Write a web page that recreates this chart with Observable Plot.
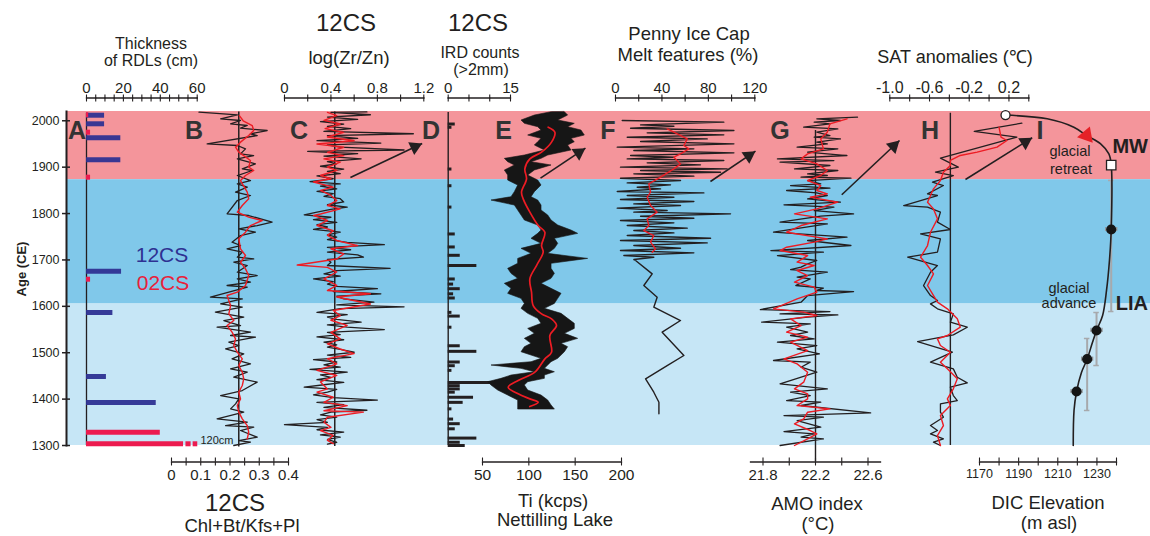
<!DOCTYPE html>
<html><head><meta charset="utf-8">
<script src="https://cdn.jsdelivr.net/npm/d3@7"></script>
<script src="https://cdn.jsdelivr.net/npm/@observablehq/plot@0.6"></script>
<style>
html,body{margin:0;padding:0;background:#fff;}
#fig{position:relative;width:1150px;height:536px;overflow:hidden;background:#fff;}
</style></head><body><div id="fig"></div>
<script>
// ---------------- DATA ----------------
const ageTicks = [1300, 1400, 1500, 1600, 1700, 1800, 1900, 2000];
const periods = [
  {name: "warm", from: 1873, to: 2020},
  {name: "liaLate", from: 1605, to: 1873},
  {name: "liaEarly", from: 1300, to: 1605}
];
// A: thickness of RDLs (cm) [year, cm]
const rdl12CS = [[2012, 9.8], [1993.5, 9.8], [1963.3, 18.6], [1915.9, 18.6], [1675.8, 19.0], [1586.7, 14.3], [1448.8, 10.8], [1392.7, 37.8]];
const rdl02CS = [[2013, 1.2], [1975.4, 2.2], [1878.4, 2.2], [1658.5, 2.2], [1328.7, 40.0], [1303.7, 120]];
// B: Chl+Bt/Kfs+Pl [year, ratio]
const bRatio = [[2018.5,0.094],[2012.8,0.225],[2004.2,0.168],[2000.6,0.236],[1993.4,0.202],[1989.8,0.259],[1984.0,0.236],[1979.0,0.327],[1971.8,0.270],[1968.2,0.293],[1950.3,0.122],[1946.7,0.225],[1939.5,0.253],[1928.7,0.236],[1925.1,0.281],[1917.9,0.225],[1907.1,0.287],[1896.4,0.242],[1892.8,0.276],[1882.0,0.225],[1871.2,0.270],[1864.0,0.225],[1856.8,0.259],[1846.1,0.219],[1838.9,0.270],[1828.1,0.225],[1799.4,0.190],[1795.8,0.264],[1781.4,0.344],[1774.2,0.293],[1767.0,0.230],[1759.8,0.287],[1752.6,0.236],[1738.3,0.207],[1731.1,0.236],[1723.9,0.190],[1716.7,0.242],[1705.9,0.225],[1702.3,0.281],[1695.1,0.213],[1688.0,0.259],[1673.6,0.225],[1666.4,0.293],[1659.2,0.225],[1652.1,0.270],[1644.9,0.190],[1641.3,0.259],[1619.7,0.133],[1616.1,0.242],[1605.3,0.168],[1598.2,0.242],[1587.4,0.150],[1576.6,0.247],[1569.4,0.179],[1558.6,0.236],[1555.0,0.156],[1544.3,0.270],[1537.1,0.202],[1533.5,0.287],[1522.7,0.196],[1515.5,0.230],[1508.3,0.185],[1497.6,0.247],[1486.8,0.207],[1476.0,0.270],[1465.2,0.202],[1458.0,0.259],[1447.3,0.213],[1436.5,0.293],[1418.5,0.242],[1407.7,0.168],[1400.5,0.230],[1389.8,0.219],[1379.0,0.202],[1371.8,0.247],[1357.4,0.156],[1350.2,0.259],[1343.0,0.185],[1339.4,0.281],[1332.3,0.236],[1317.9,0.293],[1310.7,0.230],[1307.1,0.270],[1300,0.213]];
const bRatioSmooth = [[2011,0.232],[2000,0.245],[1989.8,0.276],[1979.0,0.281],[1968.2,0.264],[1953.9,0.236],[1943.1,0.219],[1932.3,0.230],[1914.3,0.270],[1900.0,0.264],[1892.8,0.281],[1882.0,0.253],[1871.2,0.236],[1846.1,0.259],[1831.7,0.264],[1817.3,0.242],[1803.0,0.225],[1792.2,0.264],[1785.0,0.310],[1774.2,0.270],[1759.8,0.253],[1745.5,0.230],[1723.9,0.236],[1709.5,0.253],[1695.1,0.236],[1680.8,0.253],[1666.4,0.264],[1644.9,0.253],[1630.5,0.225],[1623.3,0.190],[1601.7,0.202],[1583.8,0.196],[1569.4,0.213],[1558.6,0.190],[1544.3,0.207],[1529.9,0.219],[1515.5,0.213],[1501.2,0.225],[1486.8,0.242],[1472.4,0.230],[1458.0,0.242],[1443.7,0.247],[1429.3,0.242],[1414.9,0.230],[1400.5,0.236],[1386.2,0.225],[1371.8,0.230],[1357.4,0.242],[1343.0,0.259],[1328.7,0.264],[1314.3,0.259]];
// C: log(Zr/Zn) [year, value]
const cZrZn = [[2019,0.71],[2018,0.40],[2013,0.74],[2008,0.37],[2003,0.63],[1998,0.31],[1993,0.51],[1988,0.37],[1983,0.57],[1977,0.34],[1972,1.11],[1968,0.37],[1962,0.63],[1957,0.28],[1952,0.83],[1948,0.37],[1943,0.48],[1937,1.03],[1934,0.20],[1929,0.63],[1924,0.34],[1918,0.66],[1912,0.37],[1907,0.45],[1902,0.31],[1896,0.51],[1891,0.37],[1886,0.48],[1881,0.28],[1875,0.42],[1869,0.22],[1864,0.48],[1859,0.31],[1853,0.45],[1848,0.28],[1843,0.42],[1837,0.34],[1832,0.48],[1825,0.51],[1819,0.37],[1814,0.54],[1809,0.40],[1803,0.28],[1797,0.17],[1792,0.40],[1787,0.25],[1781,0.45],[1776,0.28],[1771,0.37],[1766,0.25],[1760,0.48],[1754,0.37],[1749,0.45],[1744,0.37],[1738,0.54],[1733,0.86],[1727,0.37],[1722,0.57],[1717,0.37],[1711,0.63],[1706,0.68],[1701,0.37],[1695,0.40],[1688,0.37],[1682,0.91],[1677,0.45],[1670,0.34],[1665,0.48],[1659,0.25],[1653,0.42],[1648,0.37],[1643,0.45],[1638,0.80],[1632,0.42],[1627,0.83],[1622,0.45],[1616,0.51],[1609,0.77],[1603,0.45],[1599,1.03],[1595,0.48],[1587,0.28],[1582,0.54],[1577,0.37],[1572,0.45],[1566,0.66],[1560,0.37],[1555,0.54],[1550,0.86],[1544,0.37],[1539,0.48],[1534,0.28],[1528,0.51],[1523,0.34],[1517,0.45],[1512,0.37],[1507,0.48],[1501,0.60],[1495,0.37],[1490,0.57],[1485,0.25],[1480,0.45],[1474,0.34],[1469,0.48],[1464,0.22],[1458,0.54],[1452,0.31],[1447,0.40],[1442,0.28],[1436,0.51],[1431,0.34],[1426,0.17],[1421,0.45],[1415,0.37],[1409,0.25],[1403,0.42],[1398,0.80],[1393,0.28],[1388,0.51],[1382,0.34],[1376,0.71],[1372,0.40],[1366,0.31],[1361,0.45],[1356,0.28],[1350,0.37],[1345,0.00],[1339,0.37],[1334,0.28],[1329,0.51],[1323,0.31],[1318,0.48],[1313,0.37],[1307,0.45],[1303,0.37]];
const cZrZnSmooth = [[2018,0.37],[2011,0.45],[2001,0.34],[1993,0.48],[1983,0.35],[1975,0.51],[1965,0.37],[1957,0.60],[1950,0.28],[1943,0.51],[1932,0.37],[1925,0.51],[1918,0.34],[1911,0.48],[1900,0.37],[1893,0.45],[1882,0.31],[1875,0.40],[1868,0.25],[1857,0.42],[1850,0.31],[1839,0.40],[1828,0.45],[1817,0.37],[1810,0.48],[1799,0.31],[1796,0.25],[1785,0.37],[1774,0.28],[1763,0.42],[1753,0.37],[1742,0.45],[1731,0.63],[1724,0.40],[1713,0.51],[1702,0.45],[1689,0.11],[1684,0.37],[1674,0.45],[1659,0.34],[1645,0.45],[1634,0.37],[1627,0.74],[1620,0.45],[1605,0.74],[1591,0.42],[1580,0.48],[1570,0.40],[1559,0.54],[1544,0.40],[1530,0.48],[1519,0.37],[1508,0.48],[1498,0.60],[1487,0.37],[1476,0.45],[1462,0.28],[1451,0.45],[1437,0.31],[1422,0.37],[1415,0.28],[1404,0.42],[1393,0.34],[1386,0.54],[1375,0.34],[1372,0.68],[1361,0.37],[1350,0.34],[1339,0.40],[1332,0.31],[1322,0.42],[1311,0.37],[1304,0.42]];
// D: IRD counts (>2mm) [year, count]
const irdCounts = [[1993,1.7],[1986,0.9],[1896,0.9],[1860,0.9],[1814,0.9],[1756,1.7],[1728,1.7],[1710,2.9],[1688,6.9],[1659,1.7],[1648,1.3],[1638,2.9],[1627,1.3],[1618,1.7],[1587,0.9],[1579,2.9],[1555,0.9],[1515,2.9],[1503,6.9],[1480,2.9],[1472,1.7],[1462,0.9],[1436,11.3],[1429,2.9],[1422,2.9],[1415,1.7],[1404,6.1],[1393,3.6],[1379,0.9],[1357,1.3],[1347,2.9],[1336,1.7],[1316,6.9],[1307,2.9],[1300,4.1]];
// E: Ti (kcps), Nettilling Lake: [year, low, high] envelope of the dense record, and smoothed
const eTiRange = [[2018.5,124.5,138.9],[2011.3,106.5,142.4],[2000.6,92.1,131.7],[1993.4,95.7,149.6],[1986.2,110.1,142.4],[1979.0,113.7,156.8],[1968.2,99.3,160.4],[1961.0,113.7,146.0],[1953.9,110.1,149.6],[1946.7,106.5,142.4],[1935.9,117.3,146.0],[1925.1,95.7,120.9],[1917.9,74.1,113.7],[1910.7,77.7,102.9],[1903.6,84.9,124.5],[1892.8,74.1,106.5],[1882.0,77.7,99.3],[1871.2,77.7,110.1],[1860.4,88.5,113.7],[1846.1,84.9,106.5],[1835.3,81.3,102.9],[1828.1,59.7,110.1],[1817.3,84.9,113.7],[1806.6,88.5,113.7],[1795.8,92.1,120.9],[1785.0,95.7,124.5],[1774.2,110.1,131.7],[1763.4,113.7,146.0],[1756.2,110.1,153.2],[1745.5,102.9,128.1],[1734.7,113.7,131.7],[1723.9,92.1,128.1],[1713.1,102.9,120.9],[1702.3,88.5,164.0],[1691.6,88.5,124.5],[1680.8,77.7,124.5],[1670.0,81.3,128.1],[1659.2,88.5,124.5],[1648.5,74.1,113.7],[1637.7,81.3,124.5],[1626.9,77.7,135.3],[1616.1,92.1,131.7],[1605.3,95.7,128.1],[1594.6,92.1,117.3],[1583.8,99.3,135.3],[1573.0,110.1,142.4],[1562.2,113.7,149.6],[1551.4,99.3,149.6],[1540.7,106.5,138.9],[1529.9,95.7,153.2],[1519.1,102.9,135.3],[1511.9,95.7,142.4],[1501.1,92.1,138.9],[1486.8,113.7,131.7],[1479.6,102.9,124.5],[1472.4,59.7,120.9],[1465.2,92.1,117.3],[1458.0,106.5,128.1],[1450.8,81.3,117.3],[1443.7,70.5,117.3],[1436.5,56.1,99.3],[1429.3,59.7,95.7],[1418.5,66.9,99.3],[1407.7,77.7,113.7],[1396.9,88.5,120.9],[1386.2,88.5,124.5],[1377.5,88.5,128.1]];
const eTiSmooth = [[1986.2,120.9],[1975.4,128.1],[1953.9,124.5],[1932.3,113.7],[1917.9,101.1],[1896.4,95.7],[1874.8,97.5],[1846.1,92.1],[1831.7,93.9],[1803.0,101.1],[1774.2,110.1],[1759.8,117.3],[1731.1,113.7],[1716.7,115.5],[1688.0,108.3],[1659.2,101.1],[1630.5,102.9],[1601.7,104.7],[1583.8,113.7],[1573.0,124.5],[1558.6,129.9],[1537.1,122.7],[1501.1,124.5],[1486.8,117.3],[1458.0,106.5],[1440.1,88.5],[1425.7,77.7],[1411.3,88.5],[1400.5,101.1],[1393.3,110.1],[1384,101]];
// F: Penny Ice Cap melt features (%)
const fMelt = [[2000.6,5.8],[1997.0,93.3],[1991.2,21.6],[1988.3,50.3],[1984.0,13.0],[1979.0,102.0],[1974.0,27.3],[1969.7,93.3],[1964.6,10.1],[1961.0,79.0],[1955.3,21.6],[1950.3,102.0],[1943.1,1.5],[1939.5,67.5],[1935.9,15.8],[1930.9,102.0],[1925.1,13.0],[1921.5,50.3],[1917.9,10.1],[1914.3,93.3],[1909.3,27.3],[1905.0,73.2],[1900.0,4.3],[1896.4,96.2],[1892.8,21.6],[1889.2,90.5],[1885.6,15.8],[1880.6,67.5],[1876.2,4.3],[1871.2,56.0],[1866.2,10.1],[1861.9,47.4],[1856.8,18.7],[1853.3,38.8],[1847.5,1.5],[1844.6,76.1],[1838.9,10.1],[1835.3,50.3],[1830.3,4.3],[1825.9,67.5],[1820.9,15.8],[1817.3,56.0],[1811.6,1.5],[1806.6,44.5],[1803.0,15.8],[1799.4,99.1],[1794.3,21.6],[1790.0,67.5],[1785.0,4.3],[1780.0,50.3],[1774.2,10.1],[1768.5,61.8],[1763.4,15.8],[1758.4,50.3],[1752.6,10.1],[1746.9,81.9],[1741.9,4.3],[1736.8,79.0],[1731.1,15.8],[1725.3,56.0],[1720.3,4.3],[1715.3,67.5],[1709.5,7.2],[1705.9,33.0],[1700.9,15.8],[1698.8,17.3],[1670.0,31.6],[1644.9,24.4],[1619.7,35.9],[1598.2,33.0],[1569.4,56.0],[1544.3,40.2],[1494.0,58.9],[1472.4,44.5],[1443.7,25.9],[1414.9,33.0],[1393.3,37.4],[1368.2,37.4]];
const fMeltSmooth = [[1982.6,44.5],[1975.4,50.3],[1961.0,61.8],[1946.7,58.9],[1939.5,63.2],[1928.7,56.0],[1921.5,50.3],[1907.1,56.0],[1896.4,50.3],[1878.4,38.8],[1864.0,28.7],[1846.1,30.2],[1835.3,27.3],[1817.3,30.2],[1803.0,35.9],[1788.6,27.3],[1774.2,28.7],[1763.4,24.4],[1752.6,33.0],[1738.3,30.2],[1723.9,34.5],[1716.7,31.6]];
// G: AMO index (°C)
const gAmo = [[2007.7,22.52],[2004.2,22.21],[2000.6,22.39],[1997.0,22.19],[1993.4,22.31],[1986.2,22.11],[1982.6,22.37],[1975.4,22.21],[1968.2,22.31],[1964.6,22.19],[1961.0,22.39],[1953.9,22.21],[1950.3,22.29],[1943.1,22.06],[1939.5,22.37],[1932.3,22.14],[1925.1,22.44],[1917.9,21.91],[1914.3,22.34],[1910.7,21.93],[1903.6,22.31],[1896.4,22.04],[1892.8,22.37],[1885.6,22.14],[1882.0,22.29],[1878.4,22.09],[1876.2,22.47],[1871.2,22.14],[1864.0,22.24],[1860.4,22.01],[1854.7,22.31],[1849.7,21.98],[1844.6,22.21],[1838.9,22.29],[1831.7,22.14],[1824.5,22.39],[1818.8,21.96],[1813.7,22.34],[1806.5,22.19],[1799.4,22.49],[1794.3,22.24],[1781.4,21.93],[1777.8,22.29],[1759.8,21.88],[1754.1,22.19],[1749.0,22.44],[1741.9,22.14],[1731.1,22.47],[1720.3,21.86],[1716.7,22.26],[1709.5,21.91],[1698.8,22.21],[1691.6,22.14],[1684.4,22.09],[1679.3,22.01],[1673.6,22.29],[1662.8,22.06],[1659.2,22.16],[1644.9,22.05],[1639.1,22.26],[1634.1,22.21],[1631.9,22.49],[1623.3,22.14],[1608.9,22.09],[1593.1,21.78],[1588.8,22.31],[1583.8,21.93],[1581.6,22.37],[1576.6,22.14],[1565.8,21.79],[1562.2,22.16],[1555.0,21.98],[1544.3,22.14],[1537.1,22.01],[1529.9,22.19],[1522.7,21.91],[1515.5,22.21],[1508.3,22.06],[1497.6,22.23],[1483.2,21.88],[1479.6,22.16],[1468.8,22.09],[1458.0,22.21],[1432.9,21.93],[1422.1,22.29],[1414.9,22.01],[1407.7,22.16],[1396.9,21.98],[1393.3,22.24],[1386.2,22.09],[1370.3,22.62],[1364.6,21.96],[1361.0,22.26],[1353.8,22.06],[1339.4,22.24],[1330.1,21.96],[1325.1,22.19],[1317.9,22.09],[1314.3,22.26],[1300,21.93]];
const gAmoSmooth = [[2004.2,22.44],[1993.4,22.31],[1975.4,22.29],[1961.0,22.24],[1939.5,22.26],[1928.7,22.14],[1917.9,22.09],[1907.1,22.21],[1892.8,22.29],[1882.0,22.24],[1871.2,22.14],[1860.4,22.24],[1849.7,22.21],[1842.5,22.29],[1835.3,22.16],[1824.5,22.37],[1810.1,22.21],[1799.4,22.04],[1788.6,22.29],[1774.2,22.09],[1759.8,21.98],[1745.5,22.29],[1738.3,22.19],[1727.5,21.98],[1720.3,21.93],[1709.5,22.14],[1695.2,22.06],[1688.0,22.19],[1677.2,22.06],[1666.4,22.14],[1652.1,22.04],[1641.3,22.19],[1630.5,22.21],[1616.1,22.06],[1594.6,21.88],[1587.4,22.11],[1580.2,22.21],[1573.0,22.01],[1558.6,22.09],[1544.3,21.98],[1533.5,22.14],[1522.7,22.01],[1504.7,22.14],[1486.8,21.96],[1476.0,22.06],[1458.0,22.14],[1436.5,22.11],[1422.1,22.04],[1411.3,22.14],[1400.5,22.14],[1386.2,22.06],[1379.0,22.31],[1371.8,22.14],[1357.4,22.11],[1346.6,22.04],[1332.3,22.16],[1325.1,22.21],[1314.3,22.14],[1300,22.04]];
// H: SAT anomalies (°C)
const hSat = [[1994.8,0.33],[1977.0,-0.15],[1964.6,0.28],[1919.4,-0.49],[1900.0,-0.31],[1889.2,-0.54],[1882.0,-0.36],[1867.6,-0.57],[1860.4,-0.46],[1842.5,-0.62],[1838.9,-0.52],[1817.3,-0.86],[1813.7,-0.62],[1803.0,-0.49],[1781.4,-0.52],[1765.6,-0.39],[1756.2,-0.69],[1745.5,-0.49],[1716.7,-0.52],[1705.9,-0.82],[1688.0,-0.52],[1673.6,-0.59],[1644.9,-0.66],[1623.3,-0.59],[1612.5,-0.52],[1605.3,-0.59],[1594.6,-0.52],[1583.8,-0.36],[1565.8,-0.39],[1555.0,-0.22],[1538.5,-0.36],[1524.1,-0.72],[1501.1,-0.37],[1479.6,-0.59],[1465.2,-0.36],[1447.2,-0.32],[1435.0,-0.22],[1425.7,-0.39],[1407.7,-0.36],[1396.9,-0.32],[1389.8,-0.49],[1371.8,-0.49],[1361.0,-0.46],[1343.0,-0.59],[1332.3,-0.52],[1325.1,-0.59],[1314.3,-0.46],[1307.1,-0.56],[1300,-0.49]];
const hSatSmooth = [[1986.2,0.10],[1964.6,0.12],[1957.5,0.18],[1943.1,0.08],[1932.3,-0.12],[1925.2,-0.29],[1914.4,-0.39],[1903.6,-0.39],[1889.2,-0.46],[1871.2,-0.49],[1853.3,-0.56],[1838.9,-0.59],[1824.5,-0.62],[1810.1,-0.56],[1788.6,-0.52],[1759.8,-0.59],[1731.1,-0.62],[1705.9,-0.69],[1688.0,-0.62],[1670.0,-0.56],[1644.9,-0.62],[1626.9,-0.57],[1608.9,-0.52],[1594.6,-0.42],[1573.0,-0.32],[1555.0,-0.29],[1537.1,-0.42],[1529.9,-0.52],[1515.5,-0.49],[1501.1,-0.39],[1479.6,-0.49],[1465.2,-0.42],[1443.7,-0.32],[1422.1,-0.36],[1400.5,-0.42],[1386.2,-0.39],[1364.6,-0.49],[1343.0,-0.46],[1321.5,-0.52],[1300,-0.49]];
// I: DIC glacier elevation (m asl)
const dicCurve = [[2012.3,1183.3],[2004.3,1204.6],[1986.2,1218.2],[1968.3,1224.7],[1950.4,1231.9],[1928.8,1236.1],[1905.1,1237.3],[1765.7,1237.3],[1698.9,1236.4],[1634.2,1234.9],[1580.3,1232.9],[1548.0,1229.8],[1522.0,1227.7],[1486.1,1225.0],[1457.4,1222.1],[1416.4,1219.6],[1375.5,1218.3],[1300,1217.9]];
// dated points: [year, elevation, age-range low, age-range high]
const dicDates = [[1765.7,1237.3,1588.8,1871.3],[1548.0,1229.8,1472.4,1586.7],[1486.1,1225.0,1375.5,1530.7],[1416.4,1219.6,null,null]];
const dicElevErr = 2.8;
const dicModern = [[2012.3, 1183.3]];
const dicMoraine = [[1904.4, 1237.3]];
const dicRetreat = [[1968.3, 1224.7]];
// reference lines
const refB = 0.23, refC = 0.433, refG = 22.2, refH = -0.39;

// ---------------- LAYOUT / STYLE ----------------
const W = 1150, H = 536;
const Y_DOMAIN = [1300, 2020], Y_RANGE = [445, 111];
const SPAN = [1300, 2018];
const TOP_AXIS = 97.5, BOTTOM_AXIS = 461.5, HALF = 4;
const INK = "#231f20", RED = "#ed1c24", NAVY = "#2e3192", BARRED = "#ec1b4f";
const BAND = {warm: "#f4959b", liaLate: "#80c8ea", liaEarly: "#c6e6f6"};
const FONT = "'Liberation Sans', Arial, Helvetica, sans-serif";
const STYLE = `background: transparent; overflow: visible; position: absolute; left: 0; top: 0; font-family: ${FONT}; color: ${INK};`;
const LW = 1.3;
const yScale = d3.scaleLinear(Y_DOMAIN, Y_RANGE);
const fig = document.getElementById("fig");
const pts = (arr) => arr.map(([year, v]) => ({year, v}));

function arrowMarks(domain, range, a) {
  const xs = d3.scaleLinear(domain, range);
  const x1 = xs(a[0]), y1 = yScale(a[1]), x2 = xs(a[2]), y2 = yScale(a[3]);
  const len = Math.hypot(x2 - x1, y2 - y1), ux = (x2 - x1) / len, uy = (y2 - y1) / len;
  const r = 5.2, tip = 2 * Math.sqrt(Math.PI * r * r / (Math.sqrt(3) * 3));
  const head = {x: xs.invert(x2 - ux * tip), y: yScale.invert(y2 - uy * tip)};
  const rot = Math.atan2(ux, -uy) * 180 / Math.PI;
  return [
    Plot.link([a], {x1: d => d[0], y1: d => d[1], x2: d => d[2], y2: d => d[3], stroke: INK, strokeWidth: 1.6}),
    Plot.dot([head], {x: "x", y: "y", symbol: "triangle", r, fill: INK, stroke: "none", rotate: rot})
  ];
}

function panel({domain, range, extent = range, anchor, ticks, labels, fmt, fontSize = 15, marks}) {
  const isTop = anchor === "top";
  const lineY = isTop ? TOP_AXIS : BOTTOM_AXIS;
  const show = (d) => labels.some(l => Math.abs(l - d) < 1e-9);
  return Plot.plot({
    width: W, height: H,
    marginLeft: extent[0], marginRight: W - extent[1],
    marginTop: isTop ? lineY : lineY - HALF,
    marginBottom: isTop ? H - lineY - HALF : H - lineY,
    x: {domain, range},
    y: {domain: Y_DOMAIN, range: Y_RANGE, axis: null},
    style: STYLE,
    marks: [
      ...marks,
      Plot.frame({anchor, stroke: INK, strokeWidth: 1.3}),
      Plot.tickX(ticks, {x: d => d, stroke: INK, strokeWidth: 1.1}),
      Plot.axisX({anchor, ticks, tickSize: HALF, tickPadding: isTop ? 1.5 : 3, strokeWidth: 1.1,
        tickFormat: d => show(d) ? fmt(d) : "", fontSize, label: null})
    ]
  });
}

// ---------------- BASE (bands + age axis) ----------------
fig.appendChild(Plot.plot({
  width: W, height: H, marginLeft: 66, marginRight: 0, marginTop: Y_RANGE[1], marginBottom: H - Y_RANGE[0],
  y: {domain: Y_DOMAIN, range: Y_RANGE},
  style: STYLE,
  marks: [
    ...periods.map(p => Plot.rect([p], {y1: "from", y2: "to", fill: BAND[p.name]})),
    Plot.frame({anchor: "left", stroke: INK, strokeWidth: 2}),
    Plot.tickY(ageTicks, {y: d => d, insetRight: W - 66 - 4, stroke: INK, strokeWidth: 1.5}),
    Plot.axisY({anchor: "left", ticks: ageTicks, tickSize: 4, tickPadding: 3, strokeWidth: 1.5,
      tickFormat: d => String(d), fontSize: 12.5, label: null})
  ]
}));

// A: RDL thickness
const BREAK = 52.6;
const r02 = rdl02CS.map(([year, cm]) => ({year, cm}));
fig.appendChild(panel({
  domain: [0, 60], range: [86, 196.7], anchor: "top",
  ticks: d3.range(0, 61, 5), labels: [0, 20, 40, 60], fmt: d => String(d),
  marks: [
    Plot.ruleX([0], {y1: SPAN[0], y2: 2016, stroke: INK, strokeWidth: 1.3}),
    Plot.ruleY(rdl12CS.map(([year, cm]) => ({year, cm})), {y: "year", x1: 0, x2: "cm", stroke: NAVY, strokeWidth: 5, strokeOpacity: 0.95}),
    Plot.ruleY(r02, {y: "year", x1: 0, x2: d => Math.min(d.cm, BREAK), stroke: BARRED, strokeWidth: 5}),
    Plot.ruleY(r02.filter(d => d.cm > BREAK), {y: "year", x1: 53.9, x2: 56.7, stroke: BARRED, strokeWidth: 5}),
    Plot.ruleY(r02.filter(d => d.cm > BREAK), {y: "year", x1: 57.8, x2: 60.3, stroke: BARRED, strokeWidth: 5})
  ]
}));

// B: Chl+Bt/Kfs+Pl
fig.appendChild(panel({
  domain: [0, 0.4], range: [171, 288], anchor: "bottom",
  ticks: d3.range(0, 0.4001, 0.05), labels: [0, 0.1, 0.2, 0.3, 0.4], fmt: d => d === 0 ? "0" : d.toFixed(1),
  marks: [
    Plot.ruleX([refB], {y1: 1297, y2: 2019, stroke: INK, strokeWidth: 1.5}),
    Plot.line(pts(bRatio), {x: "v", y: "year", stroke: INK, strokeWidth: LW}),
    Plot.line(pts(bRatioSmooth), {x: "v", y: "year", stroke: RED, strokeWidth: 1.4})
  ]
}));

// C: log(Zr/Zn)
const cDom = [0, 1.2], cRange = [284, 423.3];
fig.appendChild(panel({
  domain: cDom, range: cRange, anchor: "top",
  ticks: d3.range(0, 1.2001, 0.2), labels: [0, 0.4, 0.8, 1.2], fmt: d => d === 0 ? "0" : d.toFixed(1),
  marks: [
    Plot.ruleX([refC], {y1: 1298, y2: 2019, stroke: INK, strokeWidth: 1.5}),
    Plot.line(pts(cZrZn), {x: "v", y: "year", stroke: INK, strokeWidth: LW}),
    Plot.line(pts(cZrZnSmooth), {x: "v", y: "year", stroke: RED, strokeWidth: 1.4}),
    ...arrowMarks(cDom, cRange, [0.568, 1877.8, 1.186, 1951.0])
  ]
}));

// D: IRD counts
fig.appendChild(panel({
  domain: [0, 15], range: [447.7, 510], anchor: "top",
  ticks: [0, 5, 10, 15], labels: [0, 15], fmt: d => String(d),
  marks: [
    Plot.ruleX([0], {y1: SPAN[0], y2: SPAN[1], stroke: INK, strokeWidth: 1.4}),
    Plot.ruleY(pts(irdCounts), {y: "year", x1: 0, x2: "v", stroke: INK, strokeWidth: 3})
  ]
}));

// E: Ti (kcps)
const eDom = [50, 200], eRange = [482, 621];
fig.appendChild(panel({
  domain: eDom, range: eRange, anchor: "bottom",
  ticks: [50, 100, 150, 200], labels: [50, 100, 150, 200], fmt: d => String(d), fontSize: 15.5,
  marks: [
    Plot.areaX(eTiRange.map(([year, lo, hi]) => ({year, lo, hi})), {y: "year", x1: "lo", x2: "hi", fill: "#161616", stroke: "#161616", strokeWidth: 0.6}),
    Plot.line(pts(eTiSmooth), {x: "v", y: "year", stroke: RED, strokeWidth: 1.7, curve: "catmull-rom"}),
    ...arrowMarks(eDom, eRange, [112.6, 1876.3, 161.1, 1940.9])
  ]
}));

// F: Penny Ice Cap melt
const fDom = [0, 120], fRange = [615, 754.3];
fig.appendChild(panel({
  domain: fDom, range: fRange, anchor: "top",
  ticks: d3.range(0, 121, 20), labels: [0, 40, 80, 120], fmt: d => String(d),
  marks: [
    Plot.line(pts(fMelt), {x: "v", y: "year", stroke: INK, strokeWidth: 1.4}),
    Plot.line(pts(fMeltSmooth), {x: "v", y: "year", stroke: RED, strokeWidth: 1.4}),
    ...arrowMarks(fDom, fRange, [81.8, 1869.1, 120.6, 1934.5])
  ]
}));

// G: AMO index
const gDom = [21.8, 22.6], gRange = [762.5, 867.5];
fig.appendChild(panel({
  domain: gDom, range: gRange, extent: [750, 880], anchor: "bottom",
  ticks: [21.8, 22.0, 22.2, 22.4, 22.6], labels: [21.8, 22.2, 22.6], fmt: d => d.toFixed(1),
  marks: [
    Plot.ruleX([refG], {y1: yScale.invert(BOTTOM_AXIS), y2: 1979, stroke: INK, strokeWidth: 1.4}),
    Plot.line(pts(gAmo), {x: "v", y: "year", stroke: INK, strokeWidth: LW}),
    Plot.line(pts(gAmoSmooth), {x: "v", y: "year", stroke: RED, strokeWidth: 1.4}),
    ...arrowMarks(gDom, gRange, [22.40, 1840.5, 22.84, 1957.5])
  ]
}));

// H: SAT anomalies
const hDom = [-1.0, 0.4], hRange = [889.3, 1028.3];
fig.appendChild(panel({
  domain: hDom, range: hRange, anchor: "top",
  ticks: d3.range(-1.0, 0.4001, 0.2), labels: [-1.0, -0.6, -0.2, 0.2], fmt: d => d.toFixed(1), fontSize: 16,
  marks: [
    Plot.ruleX([refH], {y1: SPAN[0], y2: 2016, stroke: INK, strokeWidth: 1.4}),
    Plot.line(pts(hSat), {x: "v", y: "year", stroke: INK, strokeWidth: LW}),
    Plot.line(pts(hSatSmooth), {x: "v", y: "year", stroke: RED, strokeWidth: 1.4}),
    ...arrowMarks(hDom, hRange, [-0.238, 1873.4, 0.434, 1963.3])
  ]
}));

// I: DIC elevation
const dic = dicDates.map(([year, elev, lo, hi]) => ({year, elev, lo, hi}));
const dicBars = dic.filter(d => d.lo != null);
const toPt = ([year, elev]) => ({year, elev});
fig.appendChild(panel({
  domain: [1170, 1240], range: [979, 1116], anchor: "bottom",
  ticks: d3.range(1170, 1241, 10), labels: [1170, 1190, 1210, 1230], fmt: d => String(d), fontSize: 12.5,
  marks: [
    Plot.ruleX(dicBars, {x: "elev", y1: "lo", y2: "hi", stroke: "#a7a9ac", strokeWidth: 2}),
    Plot.ruleY(dicBars.flatMap(d => [{e: d.elev, y: d.lo}, {e: d.elev, y: d.hi}]), {y: "y", x1: d => d.e - 1.4, x2: d => d.e + 1.4, stroke: "#a7a9ac", strokeWidth: 1.5}),
    Plot.ruleY(dic, {y: "year", x1: d => d.elev - dicElevErr, x2: d => d.elev + dicElevErr, stroke: "#939598", strokeWidth: 1.5}),
    Plot.ruleX(dic.flatMap(d => [d.elev - dicElevErr, d.elev + dicElevErr].map(e => ({e, year: d.year}))), {x: "e", y1: d => d.year - 4.5, y2: d => d.year + 4.5, stroke: "#939598", strokeWidth: 1.3}),
    Plot.line(dicCurve.map(toPt), {x: "elev", y: "year", curve: "catmull-rom", stroke: INK, strokeWidth: 1.6}),
    Plot.dot(dic, {x: "elev", y: "year", r: 4.3, fill: "#151515", stroke: "#151515"}),
    Plot.dot(dicModern.map(toPt), {x: "elev", y: "year", r: 4.5, fill: "white", stroke: INK, strokeWidth: 1.3}),
    Plot.dot(dicMoraine.map(toPt), {x: "elev", y: "year", symbol: "square", r: 5.3, fill: "white", stroke: INK, strokeWidth: 1.3}),
    Plot.dot(dicRetreat.map(toPt), {x: "elev", y: "year", symbol: "triangle", r: 6.2, fill: "#e52127", stroke: "none", rotate: 20})
  ]
}));

// ---------------- TEXT ----------------
const texts = [
  {t: "Thickness", x: 151, y: 49, s: 16},
  {t: "of RDLs (cm)", x: 151, y: 66, s: 16},
  {t: "12CS", x: 346, y: 31, s: 24},
  {t: "log(Zr/Zn)", x: 349, y: 64, s: 18.5},
  {t: "12CS", x: 478, y: 31, s: 24},
  {t: "IRD counts", x: 480, y: 58, s: 16},
  {t: "(>2mm)", x: 481, y: 75, s: 16},
  {t: "Penny Ice Cap", x: 689, y: 40, s: 18.5},
  {t: "Melt features (%)", x: 688, y: 61, s: 18.5},
  {t: "SAT anomalies (\u2103)", x: 955, y: 63, s: 18},
  {t: "12CS", x: 235, y: 511, s: 24},
  {t: "Chl+Bt/Kfs+Pl", x: 242, y: 532, s: 18.5},
  {t: "Ti (kcps)", x: 553, y: 507, s: 18.5},
  {t: "Nettilling Lake", x: 555, y: 526, s: 18.5},
  {t: "AMO index", x: 817, y: 510, s: 18.5},
  {t: "(\u00b0C)", x: 818, y: 530, s: 18.5},
  {t: "DIC Elevation", x: 1048, y: 509, s: 18.5},
  {t: "(m asl)", x: 1049, y: 529, s: 18.5},
  {t: "12CS", x: 162, y: 262, s: 21, fill: NAVY},
  {t: "02CS", x: 163, y: 290, s: 21, fill: "#e8213a"},
  {t: "120cm", x: 217, y: 444, s: 11},
  {t: "glacial", x: 1070, y: 156, s: 14.5},
  {t: "retreat", x: 1071, y: 174, s: 14.5},
  {t: "glacial", x: 1069, y: 293, s: 14.5},
  {t: "advance", x: 1069, y: 308, s: 14.5},
  {t: "MW", x: 1148, y: 153, s: 20, b: true, a: "end"},
  {t: "LIA", x: 1148, y: 310, s: 20, b: true, a: "end"},
  {t: "Age (CE)", x: 26, y: 269, s: 13, b: true, rot: -90},
  ...[["A", 77], ["B", 194], ["C", 299], ["D", 431], ["E", 503.5], ["F", 608], ["G", 780], ["H", 930], ["I", 1040]]
    .map(([t, x]) => ({t, x, y: 139, s: 25, b: true, fill: "#333333"}))
];
const overlay = d3.select(fig).append("svg")
  .attr("width", W).attr("height", H)
  .attr("style", "position:absolute;left:0;top:0;overflow:visible")
  .attr("font-family", FONT);
overlay.selectAll("text").data(texts).join("text")
  .attr("x", d => d.x).attr("y", d => d.y)
  .attr("text-anchor", d => d.a || "middle")
  .attr("font-size", d => d.s)
  .attr("font-weight", d => d.b ? "bold" : null)
  .attr("fill", d => d.fill || INK)
  .attr("transform", d => d.rot ? `rotate(${d.rot},${d.x},${d.y})` : null)
  .text(d => d.t);
</script>
</body></html>
